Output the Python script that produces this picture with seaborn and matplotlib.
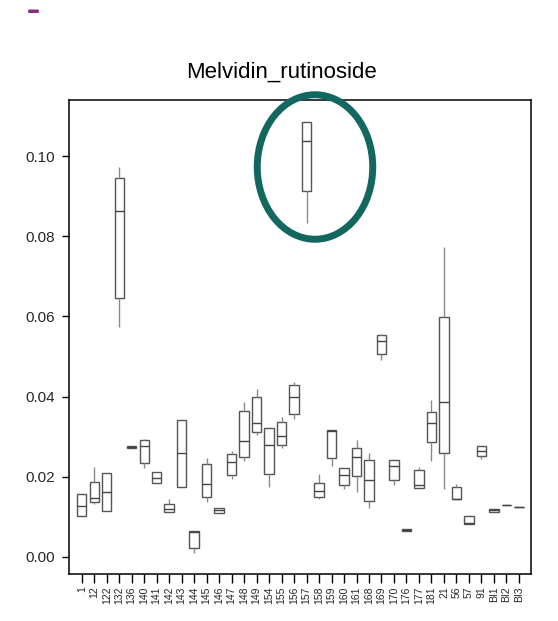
import numpy as np
import pandas as pd
import matplotlib
matplotlib.use("Agg")
import matplotlib.pyplot as plt
from matplotlib.patches import Ellipse, FancyBboxPatch
import seaborn as sns

# ---- data (five-number summaries) ----
categories = ['1', '12', '122', '132', '136', '140', '141', '142', '143', '144',
              '145', '146', '147', '148', '149', '154', '155', '156', '157', '158',
              '159', '160', '161', '168', '169', '170', '176', '177', '181', '21',
              '56', '57', '91', 'BI1', 'BI2', 'BI3']
whis_lo = [0.0102, 0.0132, 0.0114, 0.0574, 0.0272, 0.0221, 0.0184, 0.0112, 0.0175, 0.0009,
           0.0138, 0.0109, 0.0194, 0.0239, 0.0304, 0.0175, 0.0273, 0.0343, 0.0832, 0.0145,
           0.0227, 0.0170, 0.0162, 0.0123, 0.0491, 0.0179, 0.0064, 0.0173, 0.0239, 0.0169,
           0.0145, 0.0082, 0.0244, 0.0112, 0.0130, 0.0124]
q1 = [0.0102, 0.0136, 0.0114, 0.0647, 0.0272, 0.0235, 0.0184, 0.0112, 0.0175, 0.0022,
      0.0149, 0.0109, 0.0204, 0.0250, 0.0311, 0.0206, 0.0279, 0.0357, 0.0914, 0.0150,
      0.0246, 0.0180, 0.0203, 0.0139, 0.0506, 0.0191, 0.0064, 0.0173, 0.0286, 0.0259,
      0.0145, 0.0082, 0.0251, 0.0112, 0.0130, 0.0124]
median = [0.0128, 0.0148, 0.0162, 0.0864, 0.0275, 0.0277, 0.0198, 0.0119, 0.0259, 0.0062,
          0.0181, 0.0116, 0.0238, 0.0289, 0.0333, 0.0280, 0.0301, 0.0399, 0.1037, 0.0165,
          0.0313, 0.0205, 0.0249, 0.0191, 0.0539, 0.0226, 0.0067, 0.0180, 0.0333, 0.0387,
          0.0145, 0.0086, 0.0265, 0.0116, 0.0130, 0.0124]
q3 = [0.0156, 0.0188, 0.0210, 0.0946, 0.0277, 0.0291, 0.0212, 0.0133, 0.0341, 0.0066,
      0.0233, 0.0121, 0.0257, 0.0363, 0.0398, 0.0322, 0.0337, 0.0428, 0.1084, 0.0184,
      0.0317, 0.0223, 0.0273, 0.0243, 0.0554, 0.0242, 0.0070, 0.0216, 0.0362, 0.0598,
      0.0174, 0.0102, 0.0276, 0.0119, 0.0130, 0.0124]
whis_hi = [0.0156, 0.0224, 0.0210, 0.0973, 0.0277, 0.0295, 0.0212, 0.0144, 0.0341, 0.0066,
           0.0248, 0.0121, 0.0264, 0.0386, 0.0418, 0.0322, 0.0348, 0.0437, 0.1084, 0.0207,
           0.0317, 0.0223, 0.0292, 0.0259, 0.0556, 0.0242, 0.0070, 0.0225, 0.0392, 0.0774,
           0.0181, 0.0105, 0.0276, 0.0119, 0.0130, 0.0124]
title = "Melvidin_rutinoside"
y_ticks = [0.00, 0.02, 0.04, 0.06, 0.08, 0.10]

# long-form table: the five numbers per sample give exactly these quartiles
rows = []
for c, a, b, m, d, e in zip(categories, whis_lo, q1, median, q3, whis_hi):
    for v in (a, b, m, d, e):
        rows.append((c, v))
df = pd.DataFrame(rows, columns=["sample", "value"])

sns.set_style("white")
plt.rcParams['font.family'] = ['Liberation Sans', 'DejaVu Sans']

W, H = 558, 621
fig = plt.figure(figsize=(W / 100, H / 100), dpi=100)
ax = fig.add_axes([69 / W, 1 - 574 / H, (531 - 69) / W, (574 - 100) / H])

sns.boxplot(data=df, x="sample", y="value", order=categories, ax=ax,
            whis=(0, 100), width=0.75, showcaps=False, showfliers=False,
            color="white", linecolor="#555555", linewidth=1.0,
            whiskerprops={"color": "#8a8a8a"},
            medianprops={"color": "#444444"})

ax.set_xlim(-1.02, 35.97)
ax.set_ylim(-0.00424, 0.11397)
ax.set_yticks(y_ticks)
ax.set_yticklabels([f"{t:.2f}" for t in y_ticks])
ax.set_xlabel("")
ax.set_ylabel("")
ax.tick_params(axis='y', direction='out', length=5.4, width=1.0, color='black',
               labelsize=11, pad=4.5, left=True)
ax.tick_params(axis='x', direction='out', length=6.5, width=1.0, color='black',
               labelsize=7.5, pad=2.5, bottom=True, labelrotation=90)
for s in ax.spines.values():
    s.set_visible(True)
    s.set_color('black')
    s.set_linewidth(1.1)

fig.text(282 / W, 1 - 78 / H, title, ha='center', va='baseline', fontsize=16,
         color='black')

# annotation ellipse (pixel coordinates -> inches)
ell = Ellipse((315 / 100, (H - 167) / 100), 1.155, 1.445, angle=0,
              fill=False, edgecolor='#12675f', linewidth=5.0,
              transform=fig.dpi_scale_trans, zorder=10)
fig.add_artist(ell)

# small purple mark at the top left of the screenshot
mark = FancyBboxPatch((28 / 100, (H - 13) / 100), 0.11, 0.035,
                      boxstyle="round,pad=0,rounding_size=0.015",
                      facecolor='#8a2b82', edgecolor='none',
                      transform=fig.dpi_scale_trans)
fig.add_artist(mark)

fig.savefig("out.png", dpi=100)
